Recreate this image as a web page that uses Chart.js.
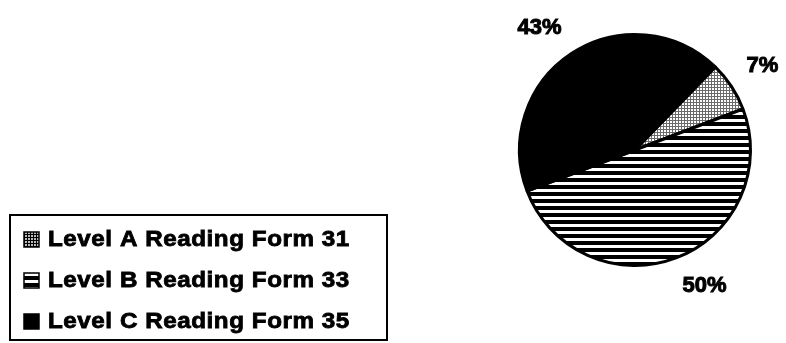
<!DOCTYPE html>
<html lang="en">

<head>
    <meta charset="UTF-8">
    <title>Reading Form Levels</title>
    <script src="https://cdn.jsdelivr.net/npm/chart.js"></script>
    <style>
        body { margin: 0; background: #fff; }
    </style>
</head>

<body>
    <canvas id="grafico" width="786" height="343"></canvas>

    <script>
        // dados
        const niveis = ['Level A Reading Form 31', 'Level B Reading Form 33', 'Level C Reading Form 35'];
        const valores = [7, 50, 43];

        const canvas = document.getElementById('grafico');
        const ctx = canvas.getContext('2d');

        // padroes de preenchimento (pontilhado, listras, preto)
        function criarPontilhado(fundo, cor) {
            const t = document.createElement('canvas');
            t.width = 3; t.height = 3;
            const c = t.getContext('2d');
            c.fillStyle = fundo;
            c.fillRect(0, 0, 3, 3);
            c.fillStyle = cor;
            c.fillRect(0, 0, 3, 1);
            c.fillRect(0, 0, 1, 3);
            return ctx.createPattern(t, 'repeat');
        }

        function criarListras() {
            const t = document.createElement('canvas');
            t.width = 8; t.height = 7;
            const c = t.getContext('2d');
            c.fillStyle = '#000';
            c.fillRect(0, 0, 8, 7);
            c.fillStyle = '#fff';
            c.fillRect(0, 0, 8, 3);
            return ctx.createPattern(t, 'repeat');
        }

        const pontilhado = criarPontilhado('#fff', '#6a6a6a');
        const pontilhadoEscuro = criarPontilhado('#bbb', '#000');
        const listras = criarListras();
        const cores = [pontilhado, listras, '#000'];
        const coresLegenda = [pontilhadoEscuro, listras, '#000'];

        const fonte = 'bold 22px "Liberation Sans", Arial, sans-serif';

        // rotulos de porcentagem fora da pizza
        const rotulos = {
            id: 'rotulos',
            afterDatasetsDraw(chart) {
                const c = chart.ctx;
                const meta = chart.getDatasetMeta(0);
                const total = valores.reduce((a, b) => a + b, 0);
                c.save();
                c.font = fonte;
                c.fillStyle = '#000';
                c.strokeStyle = '#000';
                c.lineWidth = 1;
                meta.data.forEach(function (arco, i) {
                    const p = arco.getProps(['x', 'y', 'startAngle', 'endAngle', 'outerRadius'], true);
                    const meio = (p.startAngle + p.endAngle) / 2;
                    const r = p.outerRadius + 18;
                    const x = p.x + Math.cos(meio) * r;
                    const y = p.y + Math.sin(meio) * r;
                    c.textAlign = Math.cos(meio) >= 0 ? 'left' : 'right';
                    c.textBaseline = Math.sin(meio) < 0 ? 'bottom' : 'top';
                    const txt = Math.round(valores[i] / total * 100) + '%';
                    c.fillText(txt, x, y);
                    c.strokeText(txt, x, y);
                });
                c.restore();
            }
        };

        // legenda com moldura no canto inferior esquerdo
        const legendaCaixa = {
            id: 'legendaCaixa',
            afterDraw(chart) {
                const c = chart.ctx;
                const caixa = { x: 10, y: 215, w: 377, h: 125 };
                c.save();
                c.lineWidth = 2;
                c.strokeStyle = '#000';
                c.strokeRect(caixa.x, caixa.y, caixa.w, caixa.h);

                niveis.forEach(function (nome, i) {
                    const cy = caixa.y + 24 + i * 41;
                    c.fillStyle = coresLegenda[i];
                    c.fillRect(24, cy - 7, 15, 15);
                    c.lineWidth = 1.5;
                    c.strokeRect(24, cy - 7, 15, 15);

                    // texto um pouco mais largo, como no original
                    c.save();
                    c.translate(48, cy + 1);
                    c.scale(1.1, 1);
                    c.font = fonte;
                    c.letterSpacing = '0.5px';
                    c.textBaseline = 'middle';
                    c.textAlign = 'left';
                    c.fillStyle = '#000';
                    c.lineWidth = 0.8;
                    c.fillText(nome, 0, 0);
                    c.strokeText(nome, 0, 0);
                    c.restore();
                });
                c.restore();
            }
        };

        new Chart(ctx, {
            type: 'pie',
            data: {
                labels: niveis,
                datasets: [{
                    data: valores,
                    backgroundColor: cores,
                    borderColor: '#000',
                    borderWidth: 3
                }]
            },
            options: {
                responsive: false,
                animation: false,
                rotation: 44,
                layout: {
                    padding: { left: 518, right: 34, top: 33, bottom: 76 }
                },
                plugins: {
                    legend: { display: false },
                    tooltip: { enabled: false }
                },
                events: []
            },
            plugins: [rotulos, legendaCaixa]
        });
    </script>
</body>

</html>
